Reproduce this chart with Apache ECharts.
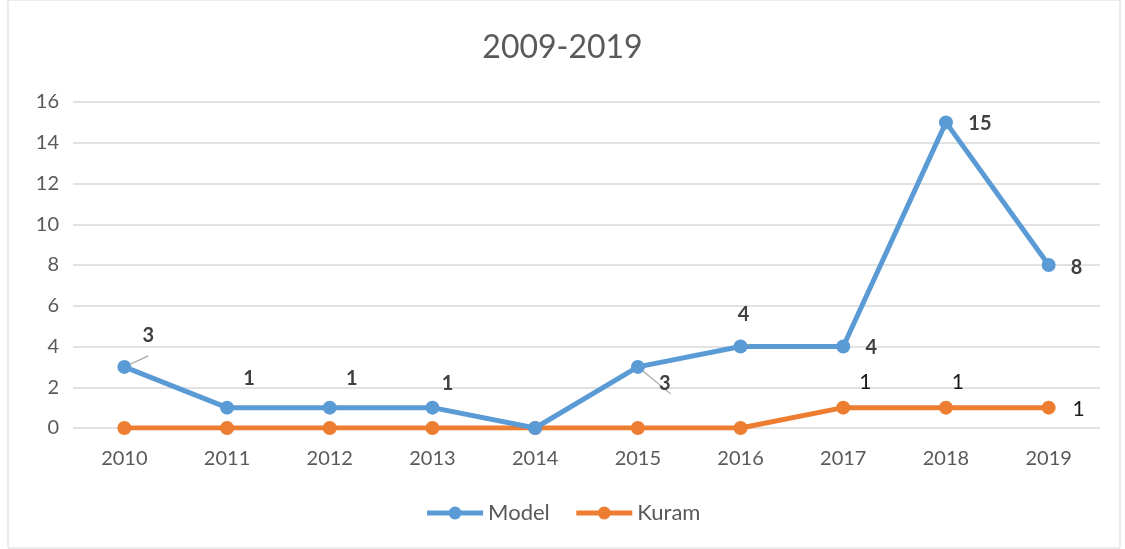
<!DOCTYPE html>
<html lang="en">
<head>
    <meta charset="UTF-8">
    <title>2009-2019</title>
    <script type="text/javascript" src="https://cdn.jsdelivr.net/npm/echarts@6/dist/echarts.min.js"></script>
    <style>
      html, body { margin: 0; padding: 0; background: #fff; }
    </style>
</head>
<body>
  <div id="chart" style="width: 1125px;height: 549px"></div>

<script type="text/javascript">

  // 数据
  var years = ['2010', '2011', '2012', '2013', '2014', '2015', '2016', '2017', '2018', '2019'];
  var modelValues = [3, 1, 1, 1, 0, 3, 4, 4, 15, 8];
  var kuramValues = [0, 0, 0, 0, 0, 0, 0, 1, 1, 1];
  var yTicks = [0, 2, 4, 6, 8, 10, 12, 14, 16];

  // 标签位置 (偏移, 是否有引线)
  var modelLabelPos = [
    {offset: [24, -9], line: true},
    {offset: [22, -7]},
    {offset: [22, -7]},
    {offset: [15, -2]},
    null,
    {offset: [27, 39], line: true},
    {offset: [3, -10], line: true},
    {offset: [28, 23]},
    {offset: [34, 23]},
    {offset: [28, 25]}
  ];
  var kuramLabelPos = [null, null, null, null, null, null, null,
    {offset: [22, -3]}, {offset: [12, -3]}, {offset: [30, 24]}];

  var fontName = 'Lato, "Open Sans", sans-serif';

  function buildData(values, posList, color, bold) {
    var out = [];
    for (var i = 0; i < values.length; i++) {
      var p = posList[i];
      var item = {value: values[i]};
      if (p) {
        item.label = {show: true, position: 'top', offset: p.offset,
          color: color, fontWeight: bold ? 'bold' : 'normal'};
        item.labelLine = {show: !!p.line, lineStyle: {color: '#a6a6a6', width: 1.2}};
      } else {
        item.label = {show: false};
      }
      out.push(item);
    }
    return out;
  }

  var myChart = echarts.init(document.getElementById('chart'));

  var option = {
    animation: false,
    textStyle: {fontFamily: fontName},
    graphic: [{
      type: 'rect',
      shape: {x: 8, y: 0, width: 1112, height: 548},
      style: {fill: 'none', stroke: '#d9d9d9', lineWidth: 1},
      silent: true
    }],
    title: {
      text: '2009-2019',
      left: 'center',
      top: 27,
      textStyle: {fontFamily: fontName, fontSize: 32, fontWeight: 'normal', color: '#595959'}
    },
    legend: {
      data: ['Model', 'Kuram'],
      bottom: 20,
      left: 'center',
      itemWidth: 56,
      itemHeight: 16,
      itemGap: 24,
      lineStyle: {width: 5},
      textStyle: {fontFamily: fontName, fontSize: 22, color: '#595959'}
    },
    grid: {left: 73, right: 25, top: 102, bottom: 121, containLabel: false},
    xAxis: {
      type: 'category',
      data: years,
      boundaryGap: true,
      axisLine: {show: false},
      axisTick: {show: false},
      axisLabel: {fontFamily: fontName, fontSize: 20, color: '#595959', margin: 21}
    },
    yAxis: {
      type: 'value',
      min: yTicks[0],
      max: yTicks[yTicks.length - 1],
      interval: 2,
      axisLine: {show: false},
      axisTick: {show: false},
      axisLabel: {fontFamily: fontName, fontSize: 20, color: '#595959', margin: 14},
      splitLine: {lineStyle: {color: '#d9d9d9', width: 1.5}}
    },
    series: [{
      name: 'Model',
      type: 'line',
      data: buildData(modelValues, modelLabelPos, '#404040', true),
      symbol: 'circle',
      symbolSize: 14,
      itemStyle: {color: '#5b9bd5'},
      lineStyle: {color: '#5b9bd5', width: 5},
      label: {fontFamily: fontName, fontSize: 20},
      z: 3
    }, {
      name: 'Kuram',
      type: 'line',
      data: buildData(kuramValues, kuramLabelPos, '#1a1a1a', false),
      symbol: 'circle',
      symbolSize: 14,
      itemStyle: {color: '#ed7d31'},
      lineStyle: {color: '#ed7d31', width: 5},
      label: {fontFamily: fontName, fontSize: 21},
      z: 2
    }]
  };

  myChart.setOption(option);
</script>
</body>
</html>
